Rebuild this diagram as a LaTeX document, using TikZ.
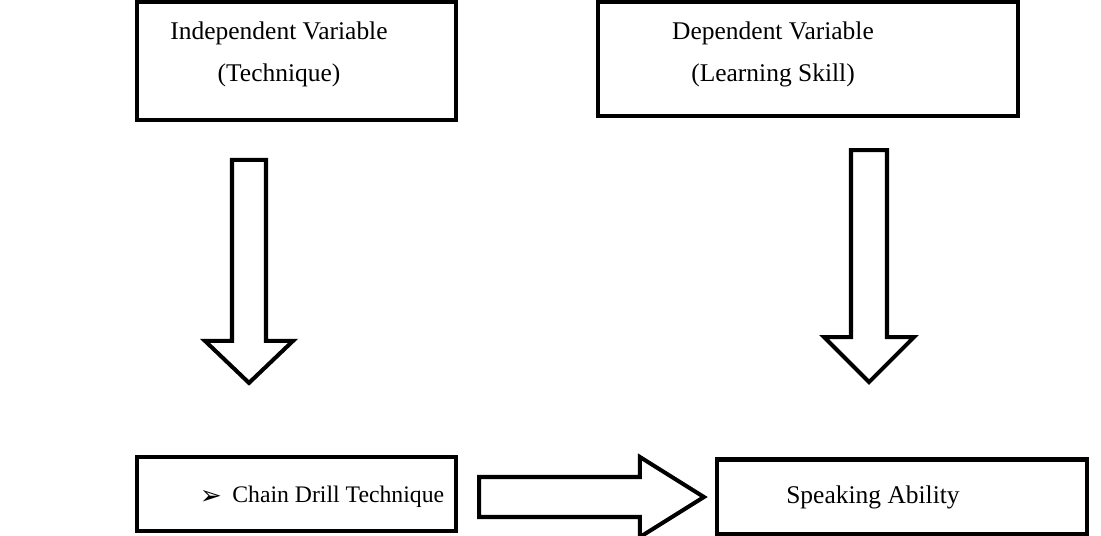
\documentclass[tikz,border=0pt]{standalone}
\usepackage{fontspec}
\setmainfont{Liberation Serif}
\newfontfamily\dingfont{DejaVu Sans}
\usepackage{tikz}
\usetikzlibrary{positioning,calc}

\tikzset{
    varbox/.style={draw, rectangle, line width=2.4pt, inner sep=0pt},
    varlabel/.style={inner sep=0pt, align=center, font=\fontsize{14.5}{24}\selectfont},
    fatarrow/.style={draw, line width=2.3pt, fill=white}
}

\begin{document}
\begin{tikzpicture}[x=0.02cm, y=-0.02cm]
            \useasboundingbox (0,0) rectangle (1101,535);

            %% Variables
            % independent and dependent variable boxes (top row)
            \node[varbox, minimum width=6.38cm, minimum height=2.36cm] (indep) at (296.5, 61) {};
            \node[varlabel] (indep_txt) at (279, 54) {Independent Variable\\(Technique)};

            \node[varbox, minimum width=8.40cm, minimum height=2.28cm] (dep) at (808, 59) {};
            \node[varlabel] (dep_txt) at (773, 54) {Dependent Variable\\(Learning Skill)};

            % technique and skill boxes (bottom row)
            \node[varbox, minimum width=6.38cm, minimum height=1.48cm] (chain) at (296.5, 494) {};
            \node[varlabel, font=\dingfont\fontsize{15}{15}\selectfont] (chain_bullet) at (211, 497) {➢};
            \node[varlabel, anchor=west, font=\fontsize{13.5}{16}\selectfont] (chain_txt) at (232, 497) {Chain Drill Technique};

            \node[varbox, minimum width=7.40cm, minimum height=1.50cm] (speak) at (902, 497) {};
            \node[varlabel] (speak_txt) at (873, 497) {Speaking Ability};

            %% Connections
            % block arrows from the variables down to the boxes below them
            \coordinate (indep_tip) at ($(chain.north)+(-47.5, -72)$);
            \draw[fatarrow] ($(indep_tip)+(-17, -223)$) -- ($(indep_tip)+(17, -223)$)
                -- ($(indep_tip)+(17, -42)$) -- ($(indep_tip)+(44, -42)$) -- (indep_tip)
                -- ($(indep_tip)+(-44, -42)$) -- ($(indep_tip)+(-17, -42)$) -- cycle;

            \coordinate (dep_tip) at ($(dep.south)+(61, 264)$);
            \draw[fatarrow] ($(dep_tip)+(-18, -232)$) -- ($(dep_tip)+(18, -232)$)
                -- ($(dep_tip)+(18, -45)$) -- ($(dep_tip)+(45, -45)$) -- (dep_tip)
                -- ($(dep_tip)+(-45, -45)$) -- ($(dep_tip)+(-18, -45)$) -- cycle;

            % block arrow from chain drill to speaking ability
            \coordinate (chain_tip) at ($(speak.west)+(-11, 0)$);
            \coordinate (chain_tail) at ($(chain.east |- chain_tip)+(21, 0)$);
            \draw[fatarrow] ($(chain_tail)+(0, -20)$) -- ($(chain_tip)+(-64, -20)$)
                -- ($(chain_tip)+(-64, -40)$) -- (chain_tip) -- ($(chain_tip)+(-64, 40)$)
                -- ($(chain_tip)+(-64, 20)$) -- ($(chain_tail)+(0, 20)$) -- cycle;

        \end{tikzpicture}
\end{document}
